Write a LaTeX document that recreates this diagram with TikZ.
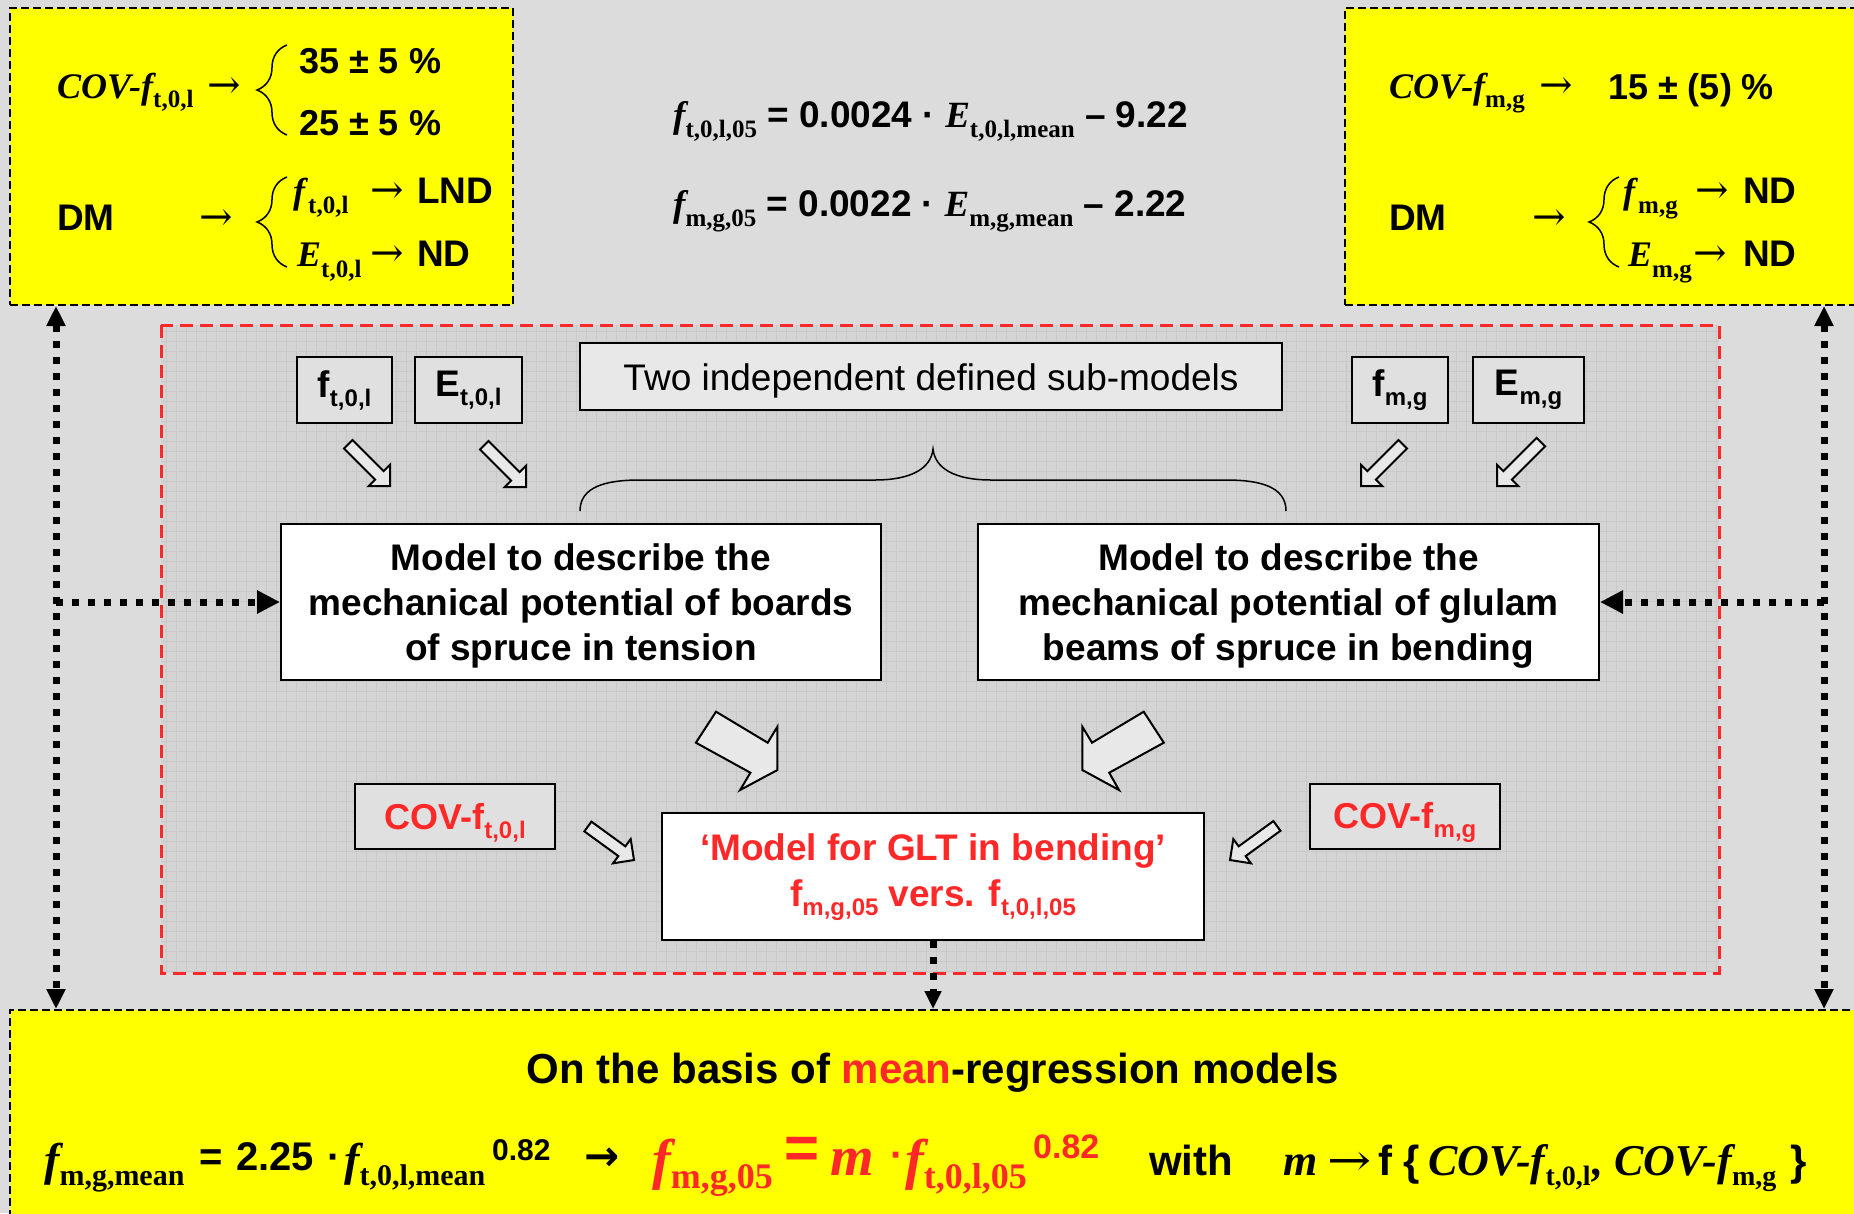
\documentclass[tikz,border=0pt]{standalone}
\usepackage{graphicx}
\usepackage{fontspec}
\setmainfont{Liberation Sans}
\newfontfamily\tms{Liberation Serif}
\newfontfamily\dvs{DejaVu Sans}
\newfontfamily\dvserif{DejaVu Serif}
\usetikzlibrary{arrows.meta,calc,decorations.pathreplacing}
\definecolor{bg}{RGB}{220,220,220}
\definecolor{innerg}{RGB}{212,212,212}
\definecolor{gridc}{RGB}{201,201,201}
\definecolor{ylw}{RGB}{255,255,0}
\definecolor{rd}{RGB}{255,40,40}
\definecolor{boxg}{RGB}{224,224,224}
\definecolor{lboxg}{RGB}{232,232,232}
\definecolor{arrg}{RGB}{232,232,232}
\newcommand\fsz[1]{\fontsize{#1}{#1}\selectfont}
\newcommand\tIt[2]{{\tms\bfseries\itshape\fsz{#1}#2}}
\newcommand\tSub[3]{\raisebox{-#3pt}{\tms\bfseries\fsz{#1}#2}}
\newcommand\aSub[3]{\raisebox{-#3pt}{\bfseries\fsz{#1}#2}}
\newcommand\aB[2]{{\bfseries\fsz{#1}#2}}
\newcommand\rarr[1]{{\dvserif\fsz{#1}→}}
\newcommand\harrow[4]{\draw[harr,shift={(#1,#2)},rotate=#3] (0,0) -- (-15,15) -- (-15,6) -- (-#4,6) -- (-#4,-6) -- (-15,-6) -- (-15,-15) -- cycle;}
\tikzset{
  txt/.style={inner sep=0pt, anchor=base west},
  ybox/.style={draw=black, line width=2pt, dash pattern=on 8pt off 4pt, fill=ylw, inner sep=0pt, rectangle},
  gbox/.style={draw=black, line width=2pt, fill=boxg, inner sep=0pt, rectangle},
  wbox/.style={draw=black, line width=2pt, fill=white, inner sep=0pt, rectangle},
  mtext/.style={inner sep=0pt, align=center, font={\bfseries\fontsize{37}{45}\selectfont}},
  dotline/.style={line width=7pt, dash pattern=on 7pt off 9pt},
  harr/.style={draw=black, line width=2pt, fill=arrg, line join=miter},
  tbrace/.style={decorate, decoration={brace, amplitude=30pt}, line width=1.5pt}
}
\begin{document}
\begin{tikzpicture}[x=1pt,y=-1pt]
\useasboundingbox (0,0) rectangle (1854,1213);
\clip (0,0) rectangle (1854,1213);
\fill[bg] (0,0) rectangle (1854,1213);
% inner region
\fill[innerg] (161,325) rectangle (1719,973);
\begin{scope}
\clip (161,325) rectangle (1719,973);
\foreach \x in {166,176,...,1716} \draw[gridc,line width=1pt] (\x,325) -- (\x,973);
\foreach \y in {331,341,...,971} \draw[gridc,line width=1pt] (161,\y) -- (1719,\y);
\end{scope}
\draw[rd, line width=3pt, dash pattern=on 13pt off 7pt] (161,325) rectangle (1719,973);

% yellow boxes
\node[ybox, minimum width=503pt, minimum height=297pt] (tl) at (261.5,156.5) {};
\node[ybox, minimum width=540pt, minimum height=297pt] (tr) at (1615,156.5) {};
\node[ybox, minimum width=1880pt, minimum height=240pt] (bot) at (950,1130) {};

% top-left content
\node[txt] (t1) at (57,98) {\tIt{36}{COV-f}\tSub{25}{t,0,l}{9}};
\node[txt] (t2) at (207,98) {\rarr{40}};
\draw[tbrace] (287,135) -- (287,45);
\node[txt] (t3) at (299,73) {\aB{36}{35 ± 5 \%}};
\node[txt] (t4) at (299,135) {\aB{36}{25 ± 5 \%}};
\node[txt] (t5) at (57,230) {\aB{37}{DM}};
\node[txt] (t6) at (199,230) {\rarr{40}};
\draw[tbrace] (287,267) -- (287,177);
\node[txt] (t7) at (293,203) {\tIt{36}{f}\kern3pt\tSub{25}{t,0,l}{10}};
\node[txt] (t8) at (370,203) {\rarr{40}};
\node[txt] (t9) at (417,203) {\aB{37}{LND}};
\node[txt] (t10) at (297,266) {\tIt{36}{E}\tSub{25}{t,0,l}{11}};
\node[txt] (t11) at (370,266) {\rarr{40}};
\node[txt] (t12) at (417,266) {\aB{37}{ND}};

% top-right content
\node[txt] (r1) at (1389,98) {\tIt{36}{COV-f}\tSub{25}{m,g}{9}};
\node[txt] (r2) at (1539,98) {\rarr{40}};
\node[txt] (r3) at (1608,99) {\aB{36}{15 ± (5) \%}};
\node[txt] (r4) at (1389,230) {\aB{37}{DM}};
\node[txt] (r5) at (1532,230) {\rarr{40}};
\draw[tbrace] (1619,267) -- (1619,177);
\node[txt] (r6) at (1623,203) {\tIt{36}{f}\kern3pt\tSub{25}{m,g}{10}};
\node[txt] (r7) at (1695,203) {\rarr{40}};
\node[txt] (r8) at (1743,203) {\aB{37}{ND}};
\node[txt] (r9) at (1628,266) {\tIt{36}{E}\tSub{25}{m,g}{11}};
\node[txt] (r10) at (1693,266) {\rarr{40}};
\node[txt] (r11) at (1743,266) {\aB{37}{ND}};

% central equations
\node[txt] (e1) at (673,127) {\tIt{37}{f}\tSub{25}{t,0,l,05}{10}\aB{37}{ = 0.0024 · }\tIt{37}{E}\tSub{25}{t,0,l,mean}{10}\aB{37}{ – 9.22}};
\node[txt] (e2) at (673,216) {\tIt{37}{f}\tSub{25}{m,g,05}{10}\aB{37}{ = 0.0022 · }\tIt{37}{E}\tSub{25}{m,g,mean}{10}\aB{37}{ – 2.22}};

% middle boxes
\node[gbox, minimum width=95pt, minimum height=66pt] (ftl) at (344.5,390) {\aB{37}{f\aSub{24}{t,0,l}{9}}};
\node[gbox, minimum width=107pt, minimum height=66pt] (Etl) at (468.5,390) {\aB{37}{E\aSub{24}{t,0,l}{9}}};
\node[gbox, minimum width=96pt, minimum height=66pt] (fmg) at (1400,390) {\aB{37}{f\aSub{24}{m,g}{9}}};
\node[gbox, minimum width=111pt, minimum height=66pt] (Emg) at (1528.5,390) {\aB{37}{E\aSub{24}{m,g}{9}}};
\node[gbox, fill=lboxg, minimum width=702pt, minimum height=67pt] (two) at (931,376.5) {};
\node[inner sep=0pt] (twot) at ([yshift=-4pt]two.center) {\fsz{37}Two independent defined sub-models};

\draw[line width=1.5pt] (580,511) .. controls (580,487) and (605,480) .. (640,480) -- (875,480) .. controls (912,480) and (931,468) .. (933,449) .. controls (935,468) and (954,480) .. (991,480) -- (1226,480) .. controls (1261,480) and (1286,487) .. (1286,511);

\node[wbox, minimum width=600pt, minimum height=156pt] (lmod) at (581,602) {};
\node[mtext] (lmodt) at ([yshift=-4pt]lmod.center) {Model to describe the\\mechanical potential of boards\\of spruce in tension};
\node[wbox, minimum width=621pt, minimum height=156pt] (rmod) at (1288.5,602) {};
\node[mtext] (rmodt) at ([yshift=-4pt]rmod.center) {Model to describe the\\mechanical potential of glulam\\beams of spruce in bending};
\node[wbox, minimum width=542pt, minimum height=127pt] (glt) at (933,876.5) {};
\node[mtext, text=rd, font={\bfseries\fontsize{37}{46}\selectfont}] (gltt) at ([yshift=-1pt]glt.center) {‘Model for GLT in bending’\\f\aSub{24}{m,g,05}{9} vers. f\aSub{24}{t,0,l,05}{9}};
\node[gbox, minimum width=200pt, minimum height=65pt] (covl) at (455,816.5) {};
\node[inner sep=0pt, text=rd] (covlt) at ([yshift=-6pt]covl.center) {\aB{36}{COV-f\aSub{24}{t,0,l}{9}}};
\node[gbox, minimum width=190pt, minimum height=65pt] (covr) at (1405,816.5) {};
\node[inner sep=0pt, text=rd] (covrt) at ([yshift=-6pt]covr.center) {\aB{36}{COV-f\aSub{24}{m,g}{9}}};

% hollow arrows
\harrow{390}{486}{-45}{59}
\harrow{526}{487}{-45}{59}
\harrow{1361}{486}{-135}{59}
\harrow{1497}{486}{-135}{62}
\harrow{634}{860}{-36}{57}
\harrow{1230}{860}{-144}{58}
% big notched arrows
\draw[harr] (716,711.7) -- (695.9,742.7) -- (750.4,772.7) -- (740.1,790) -- (777.4,770) -- (777.4,726.7) -- (767.7,742.7) -- cycle;
\draw[harr] (1143.7,711.7) -- (1163.8,742.7) -- (1109.2,772.7) -- (1119,790) -- (1082.3,770) -- (1082.3,726.7) -- (1092,742.7) -- cycle;

% dotted connectors
\coordinate (lx) at (56,0);
\coordinate (rx) at (1824,0);
\draw[dotline, {Triangle[length=20pt,width=18pt]}-{Triangle[length=20pt,width=18pt]}] (tl.south -| lx) -- (bot.north -| lx);
\draw[dotline, {Triangle[length=20pt,width=18pt]}-{Triangle[length=20pt,width=18pt]}] (tr.south -| rx) -- (bot.north -| rx);
\draw[dotline, -{Triangle[length=23pt,width=22pt]}] (lx |- lmod.west) -- (lmod.west);
\draw[dotline, -{Triangle[length=23pt,width=22pt]}] (rx |- rmod.east) -- (rmod.east);
\draw[dotline, -{Triangle[length=18pt,width=16pt]}] (glt.south) -- (bot.north -| glt.south);

% bottom text
\node[anchor=base, inner sep=0pt] (b1) at (933,1083) {\aB{42}{On the basis of \textcolor{rd}{mean}-regression models}};
\node[txt] (p1) at (44,1175) {\tIt{46}{f}\tSub{30}{m,g,mean}{10}};
\node[txt] (p2) at (199,1170) {\aB{40}{=}};
\node[txt] (p3) at (236,1170) {\aB{40}{2.25}};
\node[txt] (p4) at (327,1170) {\aB{40}{·}};
\node[txt] (p5) at (344,1175) {\tIt{46}{f}\tSub{30}{t,0,l,mean}{10}};
\node[txt] (p6) at (492,1160) {\aB{30}{0.82}};
\node[txt] (p7) at (584,1170) {{\dvs\bfseries\fsz{42}→}};
\node[txt, text=rd] (p8) at (652,1178) {\tIt{56}{f}\tSub{36}{m,g,05}{10}};
\node[txt, text=rd] (p9) at (784,1168) {\aB{60}{=}};
\node[txt, text=rd] (p10) at (830,1175) {\tIt{56}{m}};
\node[txt, text=rd] (p11) at (890,1168) {\aB{40}{·}};
\node[txt, text=rd] (p12) at (905,1178) {\tIt{56}{f}\tSub{36}{t,0,l,05}{10}};
\node[txt, text=rd] (p13) at (1033,1158) {\aB{34}{0.82}};
\node[txt] (p14) at (1149,1175) {\aB{42}{with}};
\node[txt] (p15) at (1283,1175) {\tIt{44}{m}};
\node[txt] (p16) at (1327,1175) {{\dvserif\fsz{44}\scalebox{1.2}[1]{→}}};
\node[txt] (p17) at (1378,1175) {\aB{42}{f \{}};
\node[txt] (p18) at (1428,1175) {\tIt{44}{COV-f}\tSub{28}{t,0,l}{10}\kern2pt\tIt{44}{, COV-f}\tSub{28}{m,g}{10}};
\node[txt] (p19) at (1790,1175) {\aB{42}{\}}};
\end{tikzpicture}
\end{document}
